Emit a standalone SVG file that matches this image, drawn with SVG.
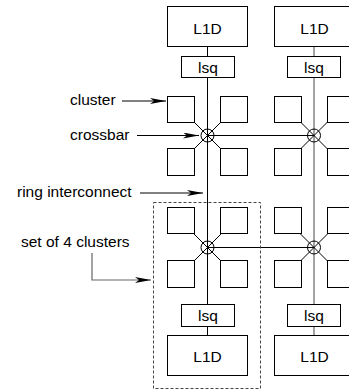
<svg xmlns="http://www.w3.org/2000/svg" width="349" height="390" viewBox="0 0 349 390">
<style>
.box{fill:#fff;stroke:#000;stroke-width:1}
.ln{stroke:#000;stroke-width:1;fill:none}
.gl{stroke:#666;stroke-width:1.2;fill:none}
.t{font-family:"Liberation Sans",Arial,sans-serif;font-size:15.5px;fill:#000}
.c{fill:none;stroke:#000;stroke-width:1}
</style>
<defs>
<marker id="ah" viewBox="0 0 16 6" refX="16" refY="3" markerWidth="16" markerHeight="6" markerUnits="userSpaceOnUse" orient="auto">
<path d="M0,0 L16,3 L0,6 L4,3 z" fill="#000"/>
</marker>
</defs>
<rect width="349" height="390" fill="#fff"/>
<g id="connectors">
<line class="ln" x1="207.5" y1="46" x2="207.5" y2="336"/>
<line class="gl" x1="314" y1="46" x2="314" y2="336"/>
<line class="ln" x1="207.5" y1="135.5" x2="314" y2="135.5"/>
<line class="ln" x1="207.5" y1="247.5" x2="314" y2="247.5"/>
<path class="ln" d="M194,122 L221,149 M221,122 L194,149"/>
<path class="ln" d="M300.5,122 L327.5,149 M327.5,122 L300.5,149"/>
<path class="ln" d="M194,234 L221,261 M221,234 L194,261"/>
<path class="ln" d="M300.5,234 L327.5,261 M327.5,234 L300.5,261"/>
<line class="ln" x1="122" y1="101" x2="166" y2="101" marker-end="url(#ah)"/>
<line class="ln" x1="137" y1="135.5" x2="199" y2="135.5" marker-end="url(#ah)"/>
<line class="ln" x1="140" y1="193" x2="203" y2="193" marker-end="url(#ah)"/>
<path class="gl" d="M92,253 L92,280 L151,280" marker-end="url(#ah)"/>
</g>
<g id="set4"><rect x="153.5" y="202.5" width="107" height="186" fill="none" stroke="#444" stroke-width="1" stroke-dasharray="3,2"/></g>
<g id="l1d-tl"><rect class="box" x="167.5" y="6.5" width="80" height="40"/><text class="t" x="207.5" y="33.5" text-anchor="middle">L1D</text></g>
<g id="l1d-tr"><rect class="box" x="274.5" y="6.5" width="80" height="40"/><text class="t" x="314.5" y="33.5" text-anchor="middle">L1D</text></g>
<g id="lsq-tl"><rect class="box" x="181.5" y="56.5" width="53" height="21"/><text class="t" x="208" y="73" text-anchor="middle">lsq</text></g>
<g id="lsq-tr"><rect class="box" x="287.5" y="56.5" width="53" height="21"/><text class="t" x="314" y="73" text-anchor="middle">lsq</text></g>
<g id="l1d-bl"><rect class="box" x="167.5" y="335.5" width="80" height="40"/><text class="t" x="207.5" y="361.5" text-anchor="middle">L1D</text></g>
<g id="l1d-br"><rect class="box" x="274.5" y="335.5" width="80" height="40"/><text class="t" x="314.5" y="361.5" text-anchor="middle">L1D</text></g>
<g id="lsq-bl"><rect class="box" x="181.5" y="304.5" width="53" height="22"/><text class="t" x="208" y="321" text-anchor="middle">lsq</text></g>
<g id="lsq-br"><rect class="box" x="287.5" y="304.5" width="53" height="22"/><text class="t" x="314" y="321" text-anchor="middle">lsq</text></g>
<g id="clusters-tl"><rect class="box" x="167.5" y="96.5" width="27" height="26"/><rect class="box" x="220.5" y="96.5" width="27" height="26"/><rect class="box" x="167.5" y="148.5" width="27" height="27"/><rect class="box" x="220.5" y="148.5" width="27" height="27"/></g>
<g id="clusters-tr"><rect class="box" x="274.5" y="96.5" width="27" height="26"/><rect class="box" x="327.5" y="96.5" width="27" height="26"/><rect class="box" x="274.5" y="148.5" width="27" height="27"/><rect class="box" x="327.5" y="148.5" width="27" height="27"/></g>
<g id="clusters-bl"><rect class="box" x="167.5" y="207.5" width="27" height="26"/><rect class="box" x="220.5" y="207.5" width="27" height="26"/><rect class="box" x="167.5" y="260.5" width="27" height="27"/><rect class="box" x="220.5" y="260.5" width="27" height="27"/></g>
<g id="clusters-br"><rect class="box" x="274.5" y="207.5" width="27" height="26"/><rect class="box" x="327.5" y="207.5" width="27" height="26"/><rect class="box" x="274.5" y="260.5" width="27" height="27"/><rect class="box" x="327.5" y="260.5" width="27" height="27"/></g>
<g id="xbar-tl"><circle class="c" cx="207.5" cy="135.5" r="6.5"/></g>
<g id="xbar-tr"><circle class="c" cx="314" cy="135.5" r="6.5"/></g>
<g id="xbar-bl"><circle class="c" cx="207.5" cy="247.5" r="6.5"/></g>
<g id="xbar-br"><circle class="c" cx="314" cy="247.5" r="6.5"/></g>
<g id="labels">
<text class="t" x="70" y="105">cluster</text>
<text class="t" x="70" y="140">crossbar</text>
<text class="t" x="17" y="197">ring interconnect</text>
<text class="t" x="21" y="247">set of 4 clusters</text>
</g>
</svg>
